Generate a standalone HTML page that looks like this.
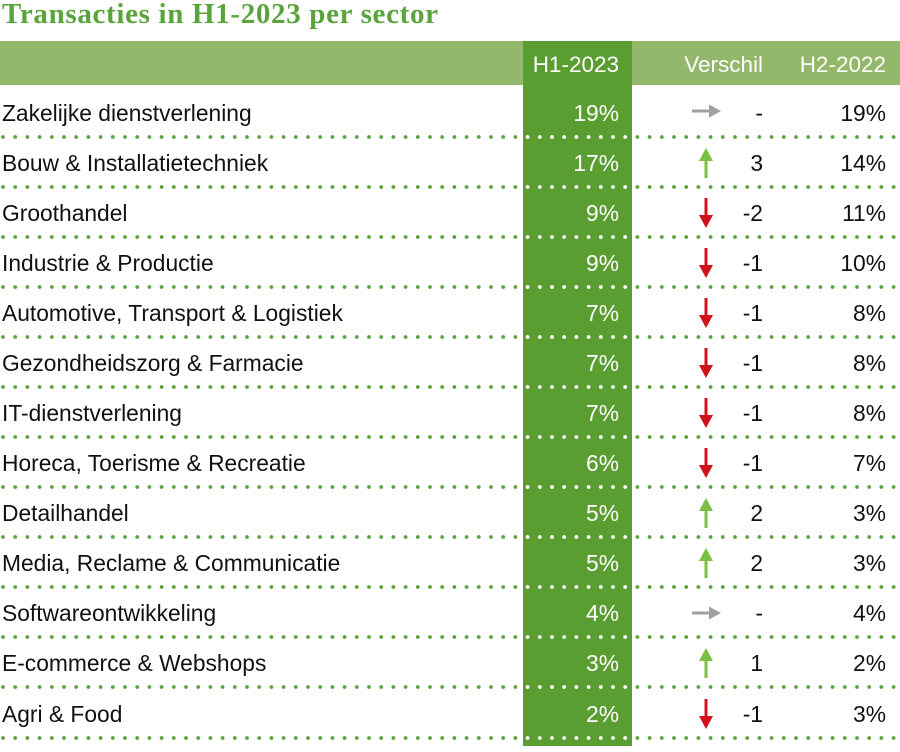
<!DOCTYPE html>
<html><head><meta charset="utf-8"><style>
body{margin:0;background:#fff;}
svg{display:block;font-family:"Liberation Sans",sans-serif;}
</style></head><body>
<svg width="900" height="752" xmlns="http://www.w3.org/2000/svg">
<defs>
<clipPath id="col"><rect x="523" y="0" width="109" height="752"/></clipPath>
<path id="ar" d="M692 -1.5h17v-5l12 6.5l-12 6.5v-5h-17z" fill="#a0a0a0"/>
<path id="au" d="M704.5 15v-17h-5.5l7-13l7 13h-5.5v17z" fill="#7cc043"/>
<path id="ad" d="M704.5 -15v17h-5.5l7 13l7-13h-5.5v-17z" fill="#d0121b"/>
</defs>
<text x="2" y="23" font-family="Liberation Serif,serif" font-weight="bold" font-size="29" textLength="436" fill="#5aa43c">Transacties in H1-2023 per sector</text>
<rect x="0" y="41" width="900" height="44" fill="#93b86c"/>
<rect x="523" y="41" width="109" height="705" fill="#5a9e32"/>
<g font-size="22.5" fill="#fff">
<text x="619" y="72" text-anchor="end">H1-2023</text>
<text x="763" y="72" text-anchor="end">Verschil</text>
<text x="886" y="72" text-anchor="end">H2-2022</text>
</g>
<g stroke="#5aa43c" stroke-width="3.8" stroke-linecap="round" stroke-dasharray="0 12.2">
<line x1="3" y1="137" x2="900" y2="137"/><line x1="3" y1="187" x2="900" y2="187"/><line x1="3" y1="237" x2="900" y2="237"/><line x1="3" y1="287" x2="900" y2="287"/><line x1="3" y1="337" x2="900" y2="337"/><line x1="3" y1="387" x2="900" y2="387"/><line x1="3" y1="437" x2="900" y2="437"/><line x1="3" y1="487" x2="900" y2="487"/><line x1="3" y1="537" x2="900" y2="537"/><line x1="3" y1="587" x2="900" y2="587"/><line x1="3" y1="637" x2="900" y2="637"/><line x1="3" y1="687" x2="900" y2="687"/><line x1="3" y1="738" x2="900" y2="738"/>
</g>
<g clip-path="url(#col)">
<rect x="523" y="100" width="109" height="646" fill="#5a9e32"/>
<g stroke="#fff" stroke-width="3.8" stroke-linecap="round" stroke-dasharray="0 12.2">
<line x1="3" y1="137" x2="900" y2="137"/><line x1="3" y1="187" x2="900" y2="187"/><line x1="3" y1="237" x2="900" y2="237"/><line x1="3" y1="287" x2="900" y2="287"/><line x1="3" y1="337" x2="900" y2="337"/><line x1="3" y1="387" x2="900" y2="387"/><line x1="3" y1="437" x2="900" y2="437"/><line x1="3" y1="487" x2="900" y2="487"/><line x1="3" y1="537" x2="900" y2="537"/><line x1="3" y1="587" x2="900" y2="587"/><line x1="3" y1="637" x2="900" y2="637"/><line x1="3" y1="687" x2="900" y2="687"/><line x1="3" y1="738" x2="900" y2="738"/>
</g></g>
<g font-size="22.8" fill="#111">
<text x="2" y="121">Zakelijke dienstverlening</text>
<text x="2" y="171">Bouw &amp; Installatietechniek</text>
<text x="2" y="221">Groothandel</text>
<text x="2" y="271">Industrie &amp; Productie</text>
<text x="2" y="321">Automotive, Transport &amp; Logistiek</text>
<text x="2" y="371">Gezondheidszorg &amp; Farmacie</text>
<text x="2" y="421">IT-dienstverlening</text>
<text x="2" y="471">Horeca, Toerisme &amp; Recreatie</text>
<text x="2" y="521">Detailhandel</text>
<text x="2" y="571">Media, Reclame &amp; Communicatie</text>
<text x="2" y="621">Softwareontwikkeling</text>
<text x="2" y="671">E-commerce &amp; Webshops</text>
<text x="2" y="722">Agri &amp; Food</text>
</g>
<g font-size="22.8" fill="#fff" text-anchor="end">
<text x="619" y="121">19%</text><text x="619" y="171">17%</text><text x="619" y="221">9%</text><text x="619" y="271">9%</text><text x="619" y="321">7%</text><text x="619" y="371">7%</text><text x="619" y="421">7%</text><text x="619" y="471">6%</text><text x="619" y="521">5%</text><text x="619" y="571">5%</text><text x="619" y="621">4%</text><text x="619" y="671">3%</text><text x="619" y="722">2%</text>
</g>
<g font-size="22.8" fill="#111" text-anchor="end">
<text x="763" y="121">-</text><text x="763" y="171">3</text><text x="763" y="221">-2</text><text x="763" y="271">-1</text><text x="763" y="321">-1</text><text x="763" y="371">-1</text><text x="763" y="421">-1</text><text x="763" y="471">-1</text><text x="763" y="521">2</text><text x="763" y="571">2</text><text x="763" y="621">-</text><text x="763" y="671">1</text><text x="763" y="722">-1</text>
<text x="886" y="121">19%</text><text x="886" y="171">14%</text><text x="886" y="221">11%</text><text x="886" y="271">10%</text><text x="886" y="321">8%</text><text x="886" y="371">8%</text><text x="886" y="421">8%</text><text x="886" y="471">7%</text><text x="886" y="521">3%</text><text x="886" y="571">3%</text><text x="886" y="621">4%</text><text x="886" y="671">2%</text><text x="886" y="722">3%</text>
</g>
<use href="#ar" y="111"/>
<use href="#au" y="163"/>
<use href="#ad" y="213"/>
<use href="#ad" y="263"/>
<use href="#ad" y="313"/>
<use href="#ad" y="363"/>
<use href="#ad" y="413"/>
<use href="#ad" y="463"/>
<use href="#au" y="513"/>
<use href="#au" y="563"/>
<use href="#ar" y="613"/>
<use href="#au" y="663"/>
<use href="#ad" y="714"/>
</svg>
</body></html>
